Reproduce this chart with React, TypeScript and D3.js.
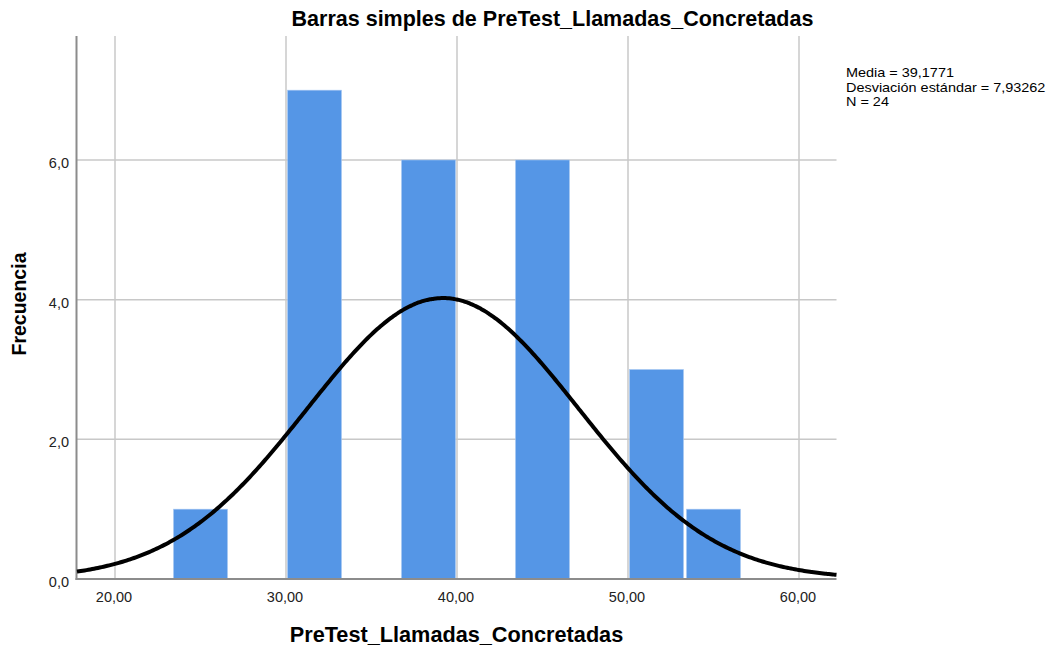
import React from "react";
import * as d3 from "d3";

// ---- data ----
const binStart = 23.3333;
const binWidth = 10 / 3;
const binCounts = [1, 0, 7, 0, 6, 0, 6, 0, 3, 1];
const xTicks = [20, 30, 40, 50, 60];
const yTicks = [0, 2, 4, 6];
const mean = 39.1771;
const sd = 7.93262;
const n = 24;
const title = "Barras simples de PreTest_Llamadas_Concretadas";
const xLabel = "PreTest_Llamadas_Concretadas";
const yLabel = "Frecuencia";
const legendLines = ["Media = 39,1771", "Desviación estándar = 7,93262", "N = 24"];

const fmtX = (v: number) => v.toFixed(2).replace(".", ",");
const fmtY = (v: number) => v.toFixed(1).replace(".", ",");

export default function App() {
  const W = 1051, H = 648;
  const x = d3.scaleLinear().domain([20, 60]).range([115, 799]);
  const y = d3.scaleLinear().domain([0, 6]).range([579, 160]);
  const left = 77, right = 836.5, top = 36, bottom = 579;
  const font = "'Liberation Sans', Arial, sans-serif";

  const bins = binCounts.map((c, i) => ({ x0: binStart + i * binWidth, x1: binStart + (i + 1) * binWidth, c }));

  const xMin = x.invert(left), xMax = x.invert(right);
  const pdf = (v: number) => (n * binWidth) / (sd * Math.sqrt(2 * Math.PI)) * Math.exp(-0.5 * ((v - mean) / sd) ** 2);
  const pts = d3.range(0, 401).map(i => xMin + (xMax - xMin) * i / 400);
  const line = d3.line<number>().x(v => x(v)).y(v => y(pdf(v))).curve(d3.curveBasis)(pts) || "";

  return (
    <svg width={W} height={H} style={{ position: "absolute", left: 0, top: 0, background: "#fff" }} fontFamily={font}>
      {/* gridlines */}
      {xTicks.map(t => (
        <line key={"gx" + t} x1={x(t)} x2={x(t)} y1={top} y2={bottom} stroke="#c8c8c8" strokeWidth={1.5} />
      ))}
      {yTicks.filter(t => t > 0).map(t => (
        <line key={"gy" + t} x1={left} x2={right} y1={y(t)} y2={y(t)} stroke="#c8c8c8" strokeWidth={1.5} />
      ))}
      {/* bars */}
      {bins.filter(b => b.c > 0).map((b, i) => (
        <rect key={"b" + i} x={x(b.x0) + 1.5} width={x(b.x1) - x(b.x0) - 3} y={y(b.c)} height={y(0) - y(b.c)}
          fill="#5596e6" stroke="#a9c8f2" strokeWidth={0.6} />
      ))}
      {/* axes */}
      <line x1={left - 0.5} x2={left - 0.5} y1={top} y2={bottom + 1} stroke="#8c8c8c" strokeWidth={2} />
      <line x1={left - 1.5} x2={right} y1={bottom} y2={bottom} stroke="#8c8c8c" strokeWidth={2} />
      {/* curve */}
      <path d={line} fill="none" stroke="#000" strokeWidth={4} />
      {/* tick labels */}
      {yTicks.map(t => (
        <text key={"ty" + t} x={69} y={y(t) + 8} textAnchor="end" fontSize={14.5} fill="#222">{fmtY(t)}</text>
      ))}
      {xTicks.map(t => (
        <text key={"tx" + t} x={x(t) - 1} y={602} textAnchor="middle" fontSize={14.5} fill="#222">{fmtX(t)}</text>
      ))}
      {/* titles */}
      <text x={552.5} y={26} textAnchor="middle" fontSize={21.5} fontWeight="bold" fill="#000">{title}</text>
      <text x={456.5} y={642} textAnchor="middle" fontSize={21.7} fontWeight="bold" fill="#000">{xLabel}</text>
      <text transform={`translate(26,304) rotate(-90)`} textAnchor="middle" fontSize={19.5} fontWeight="bold" fill="#000">{yLabel}</text>
      {/* legend */}
      <g transform="translate(846,0) scale(1.07,1)">
        {legendLines.map((s, i) => (
          <text key={"l" + i} x={0} y={77.5 + i * 14.2} fontSize={13.5} fill="#000">{s}</text>
        ))}
      </g>
    </svg>
  );
}
